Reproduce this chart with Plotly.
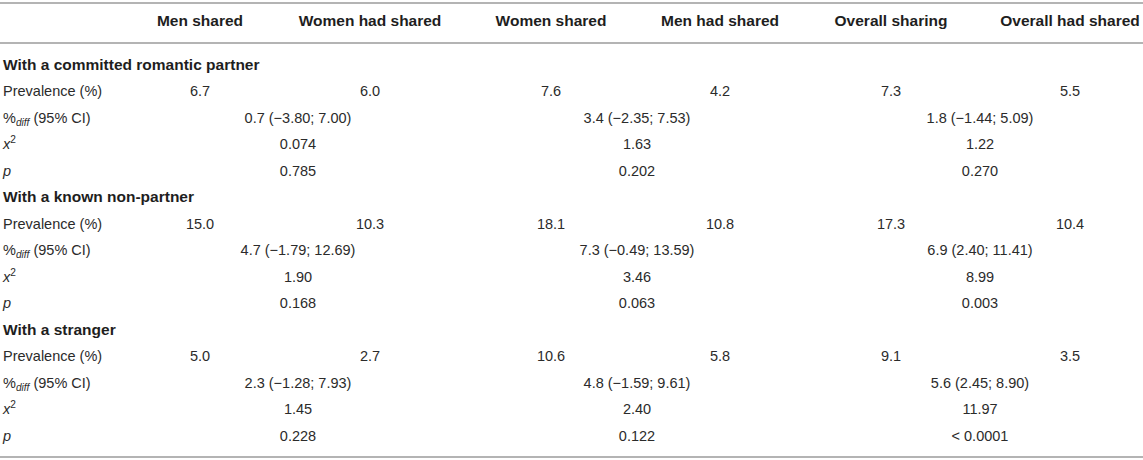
import plotly.graph_objects as go

# Table contents
columns = ["Men shared", "Women had shared", "Women shared",
           "Men had shared", "Overall sharing", "Overall had shared"]
sections = ["With a committed romantic partner",
            "With a known non-partner",
            "With a stranger"]
row_labels = ["Prevalence (%)",
              "%<sub><i>diff</i></sub> (95% CI)",
              "<i>x</i><sup>2</sup>",
              "<i>p</i>"]

prevalence = [
    [6.7, 6.0, 7.6, 4.2, 7.3, 5.5],
    [15.0, 10.3, 18.1, 10.8, 17.3, 10.4],
    [5.0, 2.7, 10.6, 5.8, 9.1, 3.5],
]
diff = [[0.7, 3.4, 1.8], [4.7, 7.3, 6.9], [2.3, 4.8, 5.6]]
ci_low = [[-3.80, -2.35, -1.44], [-1.79, -0.49, 2.40], [-1.28, -1.59, 2.45]]
ci_high = [[7.00, 7.53, 5.09], [12.69, 13.59, 11.41], [7.93, 9.61, 8.90]]
chi2 = [["0.074", "1.63", "1.22"], ["1.90", "3.46", "8.99"], ["1.45", "2.40", "11.97"]]
pvals = [["0.785", "0.202", "0.270"], ["0.168", "0.063", "0.003"], ["0.228", "0.122", "< 0.0001"]]

# layout (pixel units on the axes)
W, H = 1143, 460
col_x = [200, 370, 551, 720, 891, 1070]
pair_x = [298, 637, 980]
header_y = 22
first_row_y = 66
row_step = 26.5
label_x = 3

TEXT = "#2b2b2b"
LINE = "#b4b4b4"
FONT = "Liberation Sans, Arial, sans-serif"


def fmt(v, nd):
    s = f"{abs(v):.{nd}f}"
    return ("\u2212" + s) if v < 0 else s


fig = go.Figure()

# header
fig.add_trace(go.Scatter(
    x=col_x, y=[header_y] * len(columns), mode="text",
    text=[f"<b>{c}</b>" for c in columns],
    textposition="middle center",
    textfont=dict(family=FONT, size=15.5, color="#1e1e1e"),
    hoverinfo="skip", showlegend=False))

sec_y, lab_x, lab_y, lab_t = [], [], [], []
val_x, val_y, val_t = [], [], []
k = 0
for s, name in enumerate(sections):
    sec_y.append(first_row_y + row_step * k)
    k += 1
    ys = [first_row_y + row_step * (k + i) for i in range(4)]
    for i, lab in enumerate(row_labels):
        lab_x.append(label_x)
        lab_y.append(ys[i])
        lab_t.append(lab)
    for c, v in enumerate(prevalence[s]):
        val_x.append(col_x[c]); val_y.append(ys[0]); val_t.append(fmt(v, 1))
    for g in range(3):
        val_x.append(pair_x[g]); val_y.append(ys[1])
        val_t.append(f"{fmt(diff[s][g], 1)} ({fmt(ci_low[s][g], 2)}; {fmt(ci_high[s][g], 2)})")
        val_x.append(pair_x[g]); val_y.append(ys[2]); val_t.append(chi2[s][g])
        val_x.append(pair_x[g]); val_y.append(ys[3]); val_t.append(pvals[s][g])
    k += 4

fig.add_trace(go.Scatter(
    x=[label_x] * len(sections), y=sec_y, mode="text",
    text=[f"<b>{n}</b>" for n in sections],
    textposition="middle right",
    textfont=dict(family=FONT, size=15.5, color="#1e1e1e"),
    hoverinfo="skip", showlegend=False))

fig.add_trace(go.Scatter(
    x=lab_x, y=lab_y, mode="text", text=lab_t,
    textposition="middle right",
    textfont=dict(family=FONT, size=14.5, color=TEXT),
    hoverinfo="skip", showlegend=False))

fig.add_trace(go.Scatter(
    x=val_x, y=val_y, mode="text", text=val_t,
    textposition="middle center",
    textfont=dict(family=FONT, size=14.5, color=TEXT),
    hoverinfo="skip", showlegend=False))

# rules
for yy in [3, 43, 457]:
    fig.add_shape(type="line", xref="x", yref="y", x0=0, x1=W, y0=yy, y1=yy,
                  line=dict(color=LINE, width=2))

fig.update_layout(
    width=W, height=H,
    margin=dict(l=0, r=0, t=0, b=0),
    paper_bgcolor="white", plot_bgcolor="white",
    xaxis=dict(range=[0, W], visible=False, fixedrange=True),
    yaxis=dict(range=[H, 0], visible=False, fixedrange=True),
    showlegend=False,
)

# drop the browser's default body margin so the figure fills the window
fig.write_html("out.html",
               config={"displayModeBar": False},
               post_script="document.body.style.margin='0';"
                           "document.body.style.overflow='hidden';")
